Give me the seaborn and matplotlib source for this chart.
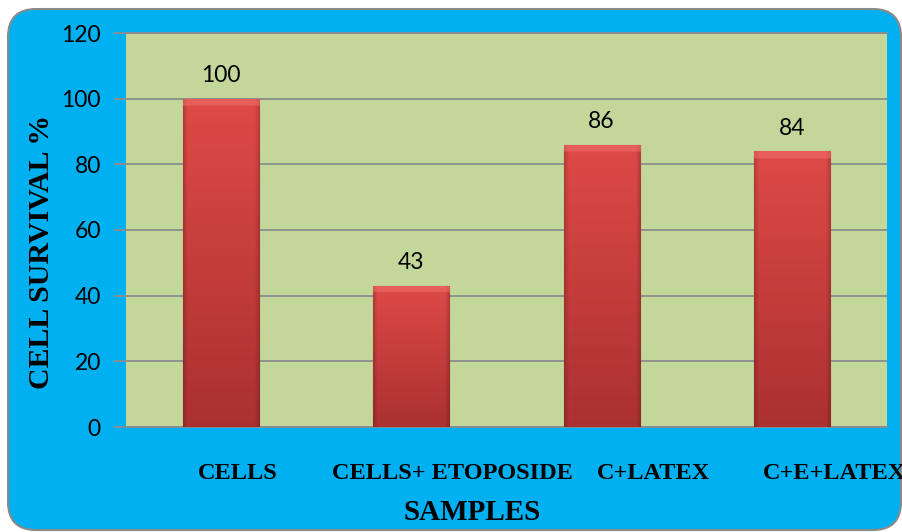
import numpy as np
import pandas as pd
import matplotlib
matplotlib.use("Agg")
import matplotlib.pyplot as plt
import seaborn as sns
from matplotlib.patches import FancyBboxPatch
from matplotlib import transforms

# Data
samples = ["CELLS", "CELLS+ ETOPOSIDE", "C+LATEX", "C+E+LATEX"]
survival = [100, 43, 86, 84]
y_ticks = [0, 20, 40, 60, 80, 100, 120]

df = pd.DataFrame({"sample": samples, "survival": survival})

sns.set_theme(style="white")
plt.rcParams["font.family"] = ["Lato", "DejaVu Sans"]

W, H = 903, 532
fig = plt.figure(figsize=(W / 100, H / 100), dpi=100)
fig.patch.set_facecolor("white")

# Rounded blue chart frame (pixel coordinates)
frame = FancyBboxPatch((8, 2), 893, 521,
                       boxstyle="round,pad=0,rounding_size=28",
                       transform=transforms.IdentityTransform(),
                       facecolor="#00B0F0", edgecolor="#8A8A8A", linewidth=1.5,
                       zorder=0)
fig.add_artist(frame)

ax = fig.add_axes([126 / W, 1 - 427 / H, 761 / W, 394 / H])
ax.set_facecolor("#C4D79B")

sns.barplot(data=df, x="sample", y="survival", ax=ax, color="#D94343",
            width=0.4, saturation=1, edgecolor="#8E2A2A", linewidth=0.8,
            zorder=3)

ax.set_ylim(0, 120)
ax.set_xlim(-0.5, len(samples) - 0.5)

# Shaded fill for each bar, clipped to the bar outline
top_c = np.array([0.87, 0.29, 0.28])
bot_c = np.array([0.67, 0.19, 0.19])
light = np.array([0.95, 0.45, 0.43])
px_per_unit = 394 / 120
for p in ax.patches:
    x0, y0, w, h = p.get_x(), p.get_y(), p.get_width(), p.get_height()
    rows, cols = 300, 80
    t = np.linspace(0, 1, rows)[:, None]
    img = top_c[None, None, :] * (1 - t[..., None]) + bot_c[None, None, :] * t[..., None]
    img = np.repeat(img, cols, axis=1)
    xs = np.linspace(0, 1, cols)
    edge = np.clip(np.minimum(xs, 1 - xs) / 0.06, 0, 1)
    img = img * (0.82 + 0.18 * edge)[None, :, None]
    band = 7 / (h * px_per_unit)
    top_rows = t[:, 0] < band
    img[top_rows] = img[top_rows] * 0.5 + light * 0.5
    im = ax.imshow(img, extent=[x0, x0 + w, y0, y0 + h], aspect="auto",
                   origin="upper", zorder=3.5, interpolation="bilinear")
    im.set_clip_path(p)

ax.set_ylim(0, 120)
ax.set_xlim(-0.5, len(samples) - 0.5)
ax.set_aspect("auto")

# Gridlines and spines
ax.set_yticks(y_ticks)
ax.yaxis.grid(True, color="#8C8C8C", linewidth=1.3)
ax.xaxis.grid(False)
ax.set_axisbelow(True)
for s in ["left", "right"]:
    ax.spines[s].set_visible(False)
for s in ["top", "bottom"]:
    ax.spines[s].set_visible(True)
    ax.spines[s].set_color("#8C8C8C")
    ax.spines[s].set_linewidth(1.3)

ax.tick_params(axis="y", length=9, color="#8C8C8C", width=1.3, pad=9,
               labelsize=16.5, labelcolor="black", left=True)
ax.tick_params(axis="x", length=0, pad=26)

ax.set_xticks(range(len(samples)))
ax.set_xticklabels(samples, fontfamily="Liberation Serif", fontweight="bold",
                   fontsize=17.5, color="black")
offsets = [17, 41, 52, 43]
for lab, dx in zip(ax.get_xticklabels(), offsets):
    lab.set_transform(lab.get_transform() +
                      transforms.ScaledTranslation(dx / 100, 0, fig.dpi_scale_trans))

ax.set_xlabel("")
ax.set_ylabel("")

# Value labels
ax.bar_label(ax.containers[0], fmt="%d", padding=9, fontsize=16.5, color="black")

# Axis titles
fig.text(42 / W, 1 - 252 / H, "CELL SURVIVAL %", rotation=90, ha="center",
         va="center", fontfamily="Liberation Serif", fontweight="bold",
         fontsize=21.5, color="black")
fig.text(472 / W, 1 - 512 / H, "SAMPLES", ha="center", va="center",
         fontfamily="Liberation Serif", fontweight="bold", fontsize=21,
         color="black")

fig.savefig("out.png", dpi=100)
